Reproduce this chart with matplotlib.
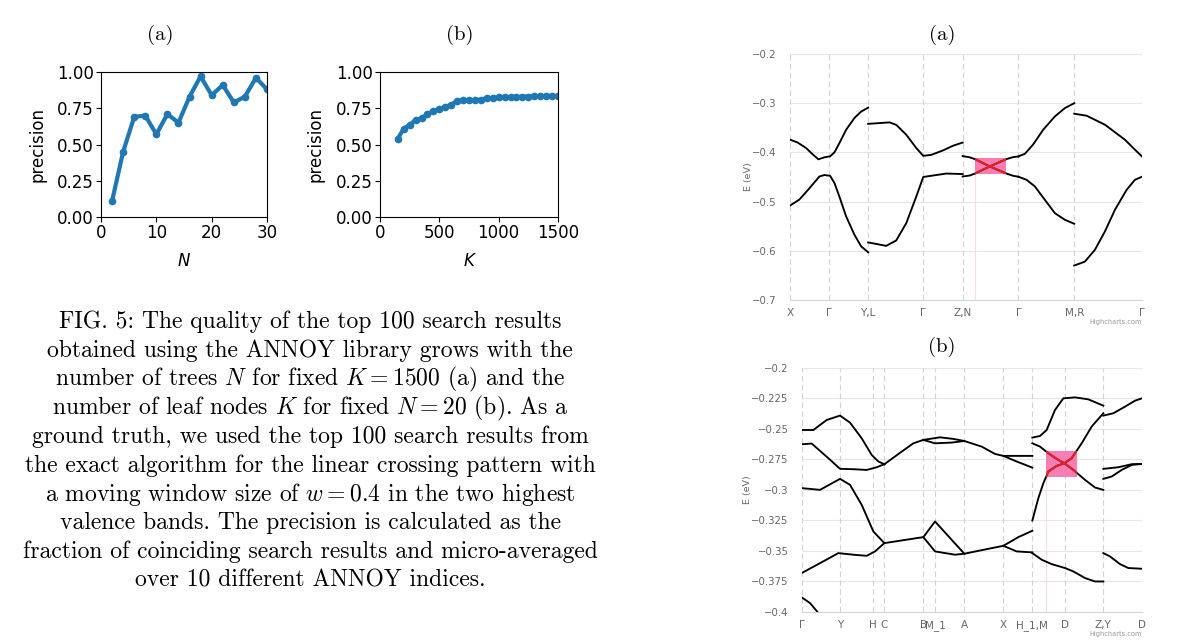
import matplotlib
matplotlib.use('Agg')
import matplotlib.pyplot as plt
from matplotlib.patches import Rectangle

plt.rcParams['mathtext.fontset'] = 'cm'

# precision vs number of trees N (K = 1500)
trees_n = [2, 4, 6, 8, 10, 12, 14, 16, 18, 20, 22, 24, 26, 28, 30]
prec_vs_n = [0.11, 0.45, 0.69, 0.70, 0.57, 0.71, 0.65, 0.83, 0.97, 0.84,
             0.91, 0.79, 0.83, 0.96, 0.88]

# precision vs number of leaf nodes K (N = 20)
leaf_k = [150, 200, 250, 300, 350, 400, 450, 500, 550, 600, 650, 700, 750, 800,
          850, 900, 950, 1000, 1050, 1100, 1150, 1200, 1250, 1300, 1350, 1400,
          1450, 1500]
prec_vs_k = [0.54, 0.61, 0.635, 0.67, 0.68, 0.71, 0.73, 0.745, 0.76, 0.775,
             0.80, 0.805, 0.805, 0.805, 0.81, 0.82, 0.82, 0.825, 0.825, 0.825,
             0.827, 0.83, 0.83, 0.832, 0.835, 0.835, 0.835, 0.835]

# band structure (a): k-path and bands as (k, E) pairs
kpts_a = [0, 1.16, 2.34, 3.99, 5.17, 6.84, 8.51, 10.54]
klabels_a = ['X', 'Γ', 'Y,L', 'Γ', 'Z,N', 'Γ', 'M,R', 'Γ']
eticks_a = [-0.7, -0.6, -0.5, -0.4, -0.3, -0.2]
elabels_a = ['−0.7', '−0.6', '−0.5', '−0.4', '−0.3', '−0.2']
box_a = (5.54, 6.48, -0.4436, -0.4117)
bands_a = [
    ([0, 0.23, 0.48, 0.68, 0.85, 1.03, 1.20, 1.33, 1.48, 1.68, 1.93, 2.13, 2.34],
     [-0.374, -0.380, -0.391, -0.404, -0.414, -0.410, -0.408, -0.400, -0.381, -0.354, -0.330, -0.317, -0.309]),
    ([0, 0.28, 0.58, 0.88, 1.03, 1.20, 1.33, 1.48, 1.68, 1.93, 2.13, 2.34],
     [-0.508, -0.496, -0.473, -0.449, -0.446, -0.4475, -0.462, -0.490, -0.530, -0.5675, -0.591, -0.603]),
    ([2.34, 2.68, 2.98, 3.18, 3.48, 3.78, 3.99, 4.23, 4.58, 4.88, 5.17],
     [-0.342, -0.3404, -0.339, -0.344, -0.364, -0.391, -0.407, -0.405, -0.396, -0.3865, -0.380]),
    ([2.34, 2.58, 2.88, 3.18, 3.48, 3.78, 3.99, 4.28, 4.68, 5.17],
     [-0.583, -0.586, -0.590, -0.579, -0.544, -0.490, -0.450, -0.447, -0.443, -0.444]),
    ([5.17, 5.38, 5.54, 5.98, 6.48, 6.68, 6.84],
     [-0.4075, -0.410, -0.4137, -0.4285, -0.443, -0.4475, -0.4495]),
    ([5.17, 5.38, 5.54, 5.98, 6.48, 6.68, 6.84],
     [-0.449, -0.447, -0.443, -0.4285, -0.4137, -0.4096, -0.4083]),
    ([6.84, 7.03, 7.28, 7.58, 7.93, 8.23, 8.51],
     [-0.408, -0.403, -0.384, -0.354, -0.327, -0.310, -0.300]),
    ([6.84, 7.08, 7.33, 7.63, 7.93, 8.23, 8.51],
     [-0.4495, -0.4556, -0.469, -0.4963, -0.5234, -0.537, -0.545]),
    ([8.51, 8.88, 9.43, 10.03, 10.33, 10.54],
     [-0.3214, -0.3254, -0.3437, -0.3743, -0.3946, -0.4083]),
    ([8.51, 8.83, 9.13, 9.43, 9.73, 10.08, 10.33, 10.54],
     [-0.630, -0.622, -0.598, -0.5607, -0.5166, -0.476, -0.4556, -0.4495]),
]

# band structure (b)
kpts_b = [0, 1.15, 2.15, 2.48, 3.65, 4.01, 4.88, 6.05, 6.92, 7.90, 9.05, 10.21]
klabels_b = ['Γ', 'Y', 'H', 'C', 'B', 'M_1', 'A', 'X', 'H_1,M', 'D', 'Z,Y', 'D']
eticks_b = [-0.4, -0.375, -0.35, -0.325, -0.3, -0.275, -0.25, -0.225, -0.2]
elabels_b = ['−0.4', '−0.375', '−0.35', '−0.325', '−0.3', '−0.275', '−0.25', '−0.225', '−0.2']
box_b = (7.33, 8.25, -0.2891, -0.2681)
bands_b = [
    ([0, 0.35, 0.75, 1.15, 1.45, 1.80, 2.10, 2.30, 2.48],
     [-0.251, -0.251, -0.2428, -0.2392, -0.245, -0.2578, -0.2714, -0.2768, -0.279]),
    ([0, 0.30, 0.80, 1.15, 1.55, 1.95, 2.25, 2.48],
     [-0.2627, -0.2621, -0.2741, -0.2828, -0.2831, -0.2837, -0.2815, -0.279]),
    ([2.48, 3.00, 3.35, 3.65, 4.15, 4.55, 4.88, 5.40, 5.80, 6.05, 6.92],
     [-0.279, -0.2687, -0.2619, -0.2591, -0.257, -0.2583, -0.260, -0.2646, -0.2706, -0.2722, -0.2722]),
    ([3.65, 4.00, 4.50, 4.88], [-0.2591, -0.2619, -0.2613, -0.260]),
    ([6.05, 6.45, 6.92], [-0.2722, -0.2768, -0.2818]),
    ([0, 0.55, 1.15, 1.45, 1.80, 2.15, 2.48, 3.65, 4.00, 4.88, 5.45, 6.05, 6.50, 6.92],
     [-0.2986, -0.300, -0.291, -0.2959, -0.3123, -0.3341, -0.3436, -0.3387, -0.3259, -0.3523, -0.3491, -0.3458, -0.3387, -0.3335]),
    ([3.65, 4.00, 4.60, 4.88], [-0.3387, -0.3504, -0.3531, -0.3523]),
    ([6.05, 6.45, 6.92], [-0.3458, -0.3504, -0.3512]),
    ([0, 0.55, 1.10, 1.55, 1.95, 2.20, 2.48],
     [-0.3681, -0.360, -0.3518, -0.3531, -0.354, -0.3504, -0.3436]),
    ([0, 0.25, 0.50], [-0.388, -0.3927, -0.4008]),
    ([6.92, 7.15, 7.35, 7.60, 7.85, 8.20, 8.60, 9.05],
     [-0.2572, -0.2559, -0.251, -0.2346, -0.2251, -0.2243, -0.2259, -0.2311]),
    ([6.92, 7.15, 7.40, 7.65, 7.88, 8.15, 8.50, 8.80, 9.05],
     [-0.2619, -0.2646, -0.270, -0.2747, -0.2782, -0.2837, -0.2918, -0.2981, -0.300]),
    ([6.92, 7.10, 7.25, 7.40, 7.65, 7.88, 8.10, 8.40, 8.70, 9.05],
     [-0.3251, -0.3068, -0.2946, -0.285, -0.2804, -0.2782, -0.2741, -0.2619, -0.2482, -0.2373]),
    ([6.92, 7.20, 7.50, 7.90, 8.15, 8.50, 8.80, 9.05],
     [-0.3518, -0.3572, -0.3608, -0.364, -0.3668, -0.3722, -0.375, -0.375]),
    ([9.05, 9.35, 9.70, 10.00, 10.21], [-0.2392, -0.2373, -0.2319, -0.227, -0.2251]),
    ([9.05, 9.50, 9.90, 10.21], [-0.2828, -0.2815, -0.279, -0.2788]),
    ([9.05, 9.30, 9.60, 9.90, 10.21], [-0.291, -0.2891, -0.2837, -0.2796, -0.2788]),
    ([9.05, 9.25, 9.55, 9.80, 10.21], [-0.3518, -0.3545, -0.3608, -0.364, -0.3646]),
]

caption = [
    "FIG. 5: The quality of the top 100 search results",
    "obtained using the ANNOY library grows with the",
    "number of trees $N$ for fixed $K = 1500$ (a) and the",
    "number of leaf nodes $K$ for fixed $N = 20$ (b). As a",
    "ground truth, we used the top 100 search results from",
    "the exact algorithm for the linear crossing pattern with",
    "a moving window size of $w = 0.4$ in the two highest",
    "valence bands. The precision is calculated as the",
    "fraction of coinciding search results and micro-averaged",
    "over 10 different ANNOY indices.",
]

W, H = 1200, 643
fig = plt.figure(figsize=(W / 100, H / 100), dpi=100)


def px_axes(left, top, right, bottom):
    return fig.add_axes([left / W, 1 - bottom / H, (right - left) / W, (bottom - top) / H])


def precision_panel(ax, xs, ys, xlim, xticks, xlabel):
    ax.plot(xs, ys, color='#1f77b4', lw=3, marker='o', ms=4.5)
    ax.set_xlim(xlim)
    ax.set_ylim(0, 1)
    ax.set_xticks(xticks)
    ax.set_yticks([0, 0.25, 0.5, 0.75, 1.0])
    ax.set_yticklabels(['0.00', '0.25', '0.50', '0.75', '1.00'])
    ax.tick_params(labelsize=12, length=3.5, pad=1.5)
    ax.set_ylabel('precision', fontsize=12)
    ax.set_xlabel(xlabel, fontsize=12, fontstyle='italic')
    ax.xaxis.set_label_coords(0.5, -0.24)


ax1 = px_axes(101, 72, 267, 217)
precision_panel(ax1, trees_n, prec_vs_n, (0, 30), [0, 10, 20, 30], 'N')
ax1.yaxis.set_label_coords(-0.33, 0.5)

ax2 = px_axes(380, 72, 558, 217)
precision_panel(ax2, leaf_k, prec_vs_k, (0, 1500), [0, 500, 1000, 1500], 'K')
ax2.yaxis.set_label_coords(-0.31, 0.5)

for x, y, lab in [(160, 35, '(a)'), (460, 35, '(b)'), (942, 35, '(a)'), (942, 347, '(b)')]:
    fig.text(x / W, 1 - y / H, lab, fontsize=15, family='cmr10', ha='center', va='center')

for i, line in enumerate(caption):
    y = 322 + i * 28.7
    fig.text(310 / W, 1 - y / H, line, fontsize=17, family='cmr10', ha='center', va='center')


def band_panel(ax, bands, kpts, klabels, eticks, elabels, box, label_x):
    ax.set_xlim(kpts[0], kpts[-1])
    ax.set_ylim(eticks[0], eticks[-1])
    for e in eticks:
        ax.axhline(e, color='#e6e6e6', lw=0.8, zorder=0)
    for k in kpts:
        ax.axvline(k, color='#cfd3dc', lw=0.8, ls=(0, (5, 3)), zorder=1)
    x0, x1, e0, e1 = box
    ax.plot([x0, x0], [eticks[0], e0], color='#fbdbe6', lw=0.8, zorder=1)
    rect = Rectangle((x0, e0), x1 - x0, e1 - e0, facecolor='#f77eb2',
                     edgecolor='none', zorder=2)
    ax.add_patch(rect)
    for ks, es in bands:
        ax.plot(ks, es, color='black', lw=1.35, zorder=3, solid_joinstyle='round')
        red, = ax.plot(ks, es, color='#e8202a', lw=1.45, zorder=4, solid_joinstyle='round')
        red.set_clip_path(rect)
    ax.set_xticks(kpts)
    ax.set_xticklabels(klabels)
    ax.set_yticks(eticks)
    ax.set_yticklabels(elabels)
    ax.tick_params(axis='y', length=0, pad=9.5, labelsize=7.3, labelcolor='#666666')
    ax.tick_params(axis='x', length=0, pad=6, labelsize=7.5, labelcolor='#666666')
    for side in ['left', 'right', 'top']:
        ax.spines[side].set_visible(False)
    ax.spines['bottom'].set_color('#ccd6eb')
    ax.spines['bottom'].set_linewidth(0.8)
    ax.set_ylabel('E (eV)', fontsize=6.8, color='#666666')
    ax.yaxis.set_label_coords(label_x, 0.5)
    ax.text(1.0, -0.09, 'Highcharts.com', transform=ax.transAxes, ha='right',
            va='center', fontsize=4.8, color='#999999')


ax3 = px_axes(790, 54, 1142, 300)
band_panel(ax3, bands_a, kpts_a, klabels_a, eticks_a, elabels_a, box_a, -0.1065)

ax4 = px_axes(801.7, 367.7, 1142, 612)
band_panel(ax4, bands_b, kpts_b, klabels_b, eticks_b, elabels_b, box_b, -0.145)

fig.savefig('out.png', dpi=100)
